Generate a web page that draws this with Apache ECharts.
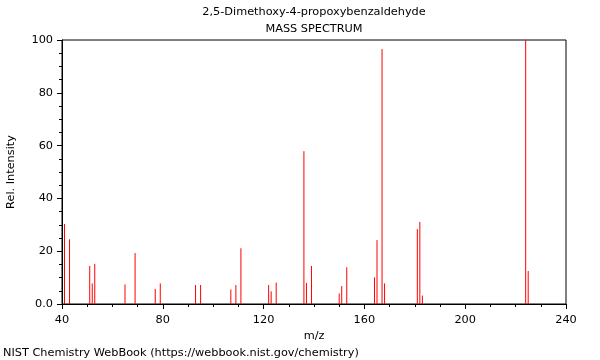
<!DOCTYPE html>
<html><head><meta charset="utf-8">
<script src="https://cdn.jsdelivr.net/npm/echarts@6/dist/echarts.min.js"></script>
<style>html,body{margin:0;padding:0;background:#fff}#c{width:600px;height:360px}</style>
</head><body><div id="c"></div>
<script>
const titleLines = ["2,5-Dimethoxy-4-propoxybenzaldehyde", "MASS SPECTRUM"];
const mz = [41, 43, 51, 52, 53, 65, 69, 77, 79, 93, 95, 107, 109, 111, 122, 123, 125, 136, 137, 139, 150, 151, 153, 164, 165, 167, 168, 181, 182, 183, 224, 225];
const intensity = [30.3, 24.5, 14.4, 7.8, 15.2, 7.4, 19.3, 5.7, 7.8, 7.2, 7.2, 5.5, 7.2, 21.1, 7.2, 4.8, 8.1, 57.9, 8.0, 14.4, 4.0, 6.8, 13.9, 10.1, 24.2, 96.6, 7.8, 28.4, 31.1, 3.2, 100, 12.5];
const xTicks = [40, 80, 120, 160, 200, 240];
const yTicks = [0, 20, 40, 60, 80, 100];

const font = 'DejaVu Sans';
const fs = 11.3;
const chart = echarts.init(document.getElementById('c'), null, {renderer: 'canvas'});
chart.setOption({
  animation: false,
  backgroundColor: '#fff',
  textStyle: {fontFamily: font},
  title: [
    {text: titleLines[0], left: 314, top: 7, padding: 0, textAlign: 'center', textStyle: {fontFamily: font, fontSize: fs, fontWeight: 'normal', color: '#000'}},
    {text: titleLines[1], left: 314, top: 24, padding: 0, textAlign: 'center', textStyle: {fontFamily: font, fontSize: fs, fontWeight: 'normal', color: '#000'}},
    {text: 'NIST Chemistry WebBook (https://webbook.nist.gov/chemistry)', left: 3, top: 348, padding: 0, textStyle: {fontFamily: font, fontSize: fs, fontWeight: 'normal', color: '#000'}}
  ],
  grid: {left: 62, right: 34, top: 40, bottom: 56, outerBoundsMode: 'none', containLabel: false, show: true, borderColor: '#000', borderWidth: 1, backgroundColor: 'transparent'},
  xAxis: {
    type: 'value', min: xTicks[0], max: xTicks[xTicks.length - 1], interval: 40,
    name: 'm/z', nameLocation: 'middle', nameGap: 24,
    nameTextStyle: {fontFamily: font, fontSize: fs, color: '#000'},
    axisLine: {show: true, lineStyle: {color: '#000', width: 1}},
    axisTick: {show: true, length: 5, lineStyle: {color: '#000'}},
    minorTick: {show: true, splitNumber: 4, length: 3, lineStyle: {color: '#000'}},
    axisLabel: {color: '#000', fontSize: fs, fontFamily: font, margin: 11},
    splitLine: {show: false}
  },
  yAxis: {
    type: 'value', min: yTicks[0], max: yTicks[yTicks.length - 1], interval: 20,
    name: 'Rel. Intensity', nameLocation: 'middle', nameGap: 45, nameRotate: 90,
    nameTextStyle: {fontFamily: font, fontSize: fs, color: '#000'},
    axisLine: {show: true, lineStyle: {color: '#000', width: 1}},
    axisTick: {show: true, length: 5, lineStyle: {color: '#000'}},
    minorTick: {show: true, splitNumber: 4, length: 3, lineStyle: {color: '#000'}},
    axisLabel: {color: '#000', fontSize: fs, fontFamily: font, margin: 9, formatter: v => v === 0 ? '0.0' : String(v)},
    splitLine: {show: false}
  },
  series: [{
    type: 'custom',
    clip: false,
    data: mz.map((m, i) => ({value: [m, intensity[i]]})),
    renderItem: function (params, api) {
      const p0 = api.coord([api.value(0), 0]);
      const p1 = api.coord([api.value(0), api.value(1)]);
      return {type: 'line', shape: {x1: p0[0], y1: p0[1], x2: p1[0], y2: p1[1]}, style: {stroke: '#ff0000', lineWidth: 1}};
    }
  }]
});
</script></body></html>
